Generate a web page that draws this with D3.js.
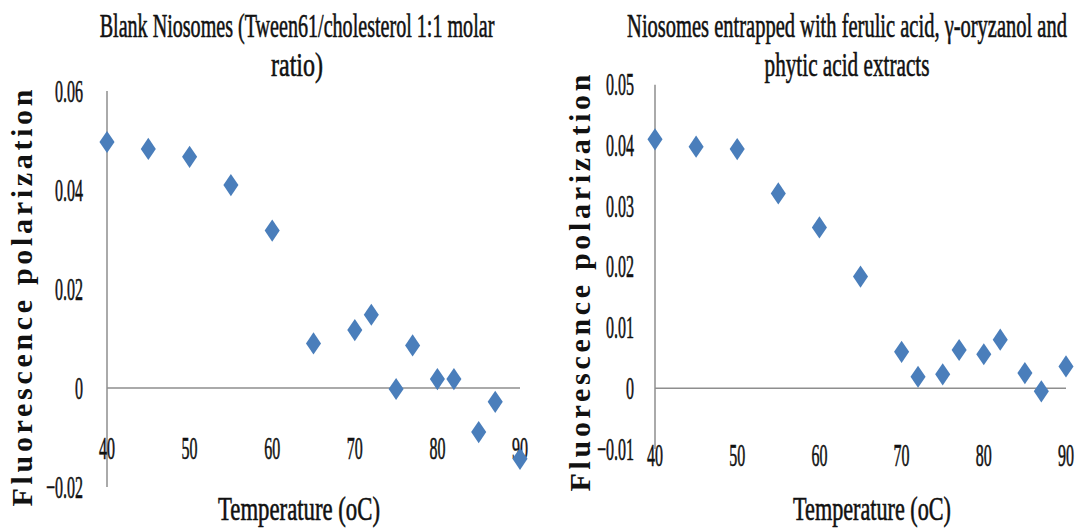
<!DOCTYPE html>
<html>
<head>
<meta charset="utf-8">
<script src="https://cdn.jsdelivr.net/npm/d3@7"></script>
<style>
  html, body { margin: 0; padding: 0; background: #fff; }
  svg { display: block; }
  text { font-family: "Liberation Serif", "Times New Roman", serif; fill: #111; }
  text.heavy { stroke: #111; stroke-width: 0.6; }
</style>
</head>
<body>
<svg id="chart" width="1077" height="529"></svg>
<script>
// ---- Data ----
const temperatures = [40, 45, 50, 55, 60, 65, 70, 72, 75, 77, 80, 82, 85, 87, 90];
const blankValues = [0.0497, 0.0483, 0.0467, 0.0410, 0.0318, 0.0090, 0.0117, 0.0148, -0.0002, 0.0086, 0.0018, 0.0018, -0.0089, -0.0028, -0.0143];
const entrappedValues = [0.0410, 0.0398, 0.0394, 0.0321, 0.0265, 0.0184, 0.0060, 0.0019, 0.0023, 0.0063, 0.0056, 0.0080, 0.0025, -0.0005, 0.0036];
const xTicks = [40, 50, 60, 70, 80, 90];
const blankYTicks = [-0.02, 0, 0.02, 0.04, 0.06];
const entrappedYTicks = [-0.01, 0, 0.01, 0.02, 0.03, 0.04, 0.05];
const blankTitle = ["Blank Niosomes (Tween61/cholesterol 1:1 molar", "ratio)"];
const entrappedTitle = ["Niosomes entrapped with ferulic acid, \u03b3-oryzanol and", "phytic acid extracts"];
const xAxisTitle = "Temperature (oC)";
const yAxisTitle = "Fluorescence polarization";

// ---- Layout ----
const panels = [
  {
    values: blankValues, yTicks: blankYTicks, title: blankTitle,
    yDomain: [-0.02, 0.06], yRange: [487, 91], xRange: [107, 520],
    yLabelRight: 83, xLabelBaseline: 459,
    titleCx: 297, titleBase: [37, 76], titleLen: [395, 52],
    xTitleCx: 299, xTitleLen: 162,
    yTitleX: 32, yTitleCy: 298
  },
  {
    values: entrappedValues, yTicks: entrappedYTicks, title: entrappedTitle,
    yDomain: [-0.01, 0.05], yRange: [449, 84.7], xRange: [655, 1066],
    yLabelRight: 634, xLabelBaseline: 466,
    titleCx: 847, titleBase: [37, 76], titleLen: [440, 165],
    xTitleCx: 872, xTitleLen: 158,
    yTitleX: 590, yTitleCy: 283
  }
];

const svg = d3.select("#chart");

// place a text anchored at (x, baseline) and squeeze it horizontally to a given width
function fitText(parent, str, x, yb, size, width, anchor) {
  const t = parent.append("text")
    .attr("class", "heavy")
    .attr("font-size", size)
    .attr("text-anchor", anchor)
    .text(str);
  const natural = t.node().getComputedTextLength();
  const sx = width / natural;
  t.attr("transform", `translate(${x},${yb}) scale(${sx},1)`);
  return t;
}

const diamond = {
  draw(ctx, size) {
    const h = Math.sqrt(size) * 0.62;
    const w = h * 0.68;
    ctx.moveTo(0, -h);
    ctx.lineTo(w, 0);
    ctx.lineTo(0, h);
    ctx.lineTo(-w, 0);
    ctx.closePath();
  }
};

const fmt = v => (v === 0 ? "0" : d3.format(".2f")(v));
const tickScale = 0.5;
const tickSize = 32;

panels.forEach(p => {
  const x = d3.scaleLinear().domain([40, 90]).range(p.xRange);
  const y = d3.scaleLinear().domain(p.yDomain).range(p.yRange);
  const g = svg.append("g");

  // vertical axis
  g.append("line")
    .attr("x1", x(40)).attr("x2", x(40))
    .attr("y1", y(p.yDomain[1])).attr("y2", y(p.yDomain[0]))
    .attr("stroke", "#8e8e8e").attr("stroke-width", 1.5);
  // horizontal axis at 0
  g.append("line")
    .attr("x1", x(40)).attr("x2", x(90))
    .attr("y1", y(0)).attr("y2", y(0))
    .attr("stroke", "#8e8e8e").attr("stroke-width", 1.5);

  // y tick labels
  p.yTicks.forEach(t => {
    g.append("text")
      .attr("class", "heavy")
      .attr("transform", `translate(${p.yLabelRight},${y(t) + 10.5}) scale(${tickScale},1)`)
      .attr("text-anchor", "end")
      .attr("font-size", tickSize)
      .text(fmt(t));
  });
  // x tick labels
  xTicks.forEach(t => {
    g.append("text")
      .attr("class", "heavy")
      .attr("transform", `translate(${x(t)},${p.xLabelBaseline}) scale(${tickScale},1)`)
      .attr("text-anchor", "middle")
      .attr("font-size", tickSize)
      .text(t);
  });

  // points
  g.selectAll("path.pt")
    .data(temperatures.map((t, i) => [t, p.values[i]]))
    .enter().append("path")
    .attr("class", "pt")
    .attr("d", d3.symbol().type(diamond).size(320))
    .attr("transform", d => `translate(${x(d[0])},${y(d[1])})`)
    .attr("fill", "#4a7ebb");

  // title
  p.title.forEach((line, i) => {
    fitText(g, line, p.titleCx, p.titleBase[i], 34, p.titleLen[i], "middle");
  });

  // x axis title
  fitText(g, xAxisTitle, p.xTitleCx, 520, 33, p.xTitleLen, "middle");

  // y axis title (bold, letter-spaced, rotated)
  g.append("text")
    .attr("transform", `translate(${p.yTitleX},${p.yTitleCy}) rotate(-90)`)
    .attr("text-anchor", "middle")
    .attr("font-size", 30)
    .attr("font-weight", "bold")
    .attr("textLength", 417)
    .attr("lengthAdjust", "spacing")
    .text(yAxisTitle);
});
</script>
</body>
</html>
